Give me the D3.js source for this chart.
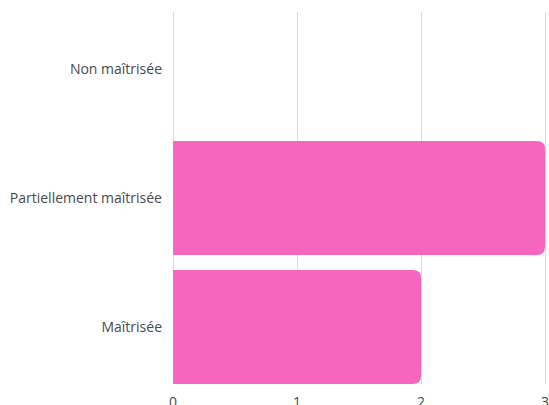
<!DOCTYPE html>
<html><head><meta charset="utf-8">
<script src="https://cdn.jsdelivr.net/npm/d3@7"></script>
<style>body{margin:0;background:#fff}svg{display:block}text{font-family:"Open Sans",sans-serif}</style>
</head><body><svg id="c" width="549" height="405"></svg>
<script>
const categories = ["Non maîtrisée", "Partiellement maîtrisée", "Maîtrisée"];
const values = [0, 3, 2];
const xTicks = [0, 1, 2, 3];

const svg = d3.select("#c");
const x = d3.scaleLinear().domain([0, 3]).range([173, 545]);
const y = d3.scaleBand().domain(categories).range([12, 384]).paddingInner(0.1163).paddingOuter(0);

svg.append("g").selectAll("line").data(xTicks).join("line")
  .attr("x1", d => x(d)).attr("x2", d => x(d))
  .attr("y1", 12).attr("y2", 384)
  .attr("stroke", "#dcdcdc").attr("stroke-width", 1).attr("shape-rendering", "crispEdges");

const r = 8;
svg.append("g").selectAll("path").data(categories.map((c, i) => ({c, v: values[i]})).filter(d => d.v > 0)).join("path")
  .attr("fill", "#f766be")
  .attr("d", d => {
    const x0 = x(0), x1 = x(d.v), y0 = y(d.c), h = y.bandwidth();
    return `M${x0},${y0}H${x1 - r}Q${x1},${y0} ${x1},${y0 + r}V${y0 + h - r}Q${x1},${y0 + h} ${x1 - r},${y0 + h}H${x0}Z`;
  });

svg.append("g").selectAll("text").data(categories).join("text")
  .attr("x", 162).attr("y", d => y(d) + y.bandwidth() / 2)
  .attr("dy", "0.35em").attr("text-anchor", "end")
  .attr("font-size", 14).attr("fill", "#4a4a4a").text(d => d);

svg.append("g").selectAll("text").data(xTicks).join("text")
  .attr("x", d => x(d)).attr("y", 407)
  .attr("text-anchor", "middle").attr("font-size", 14).attr("fill", "#4a4a4a").text(d => d);
</script></body></html>
